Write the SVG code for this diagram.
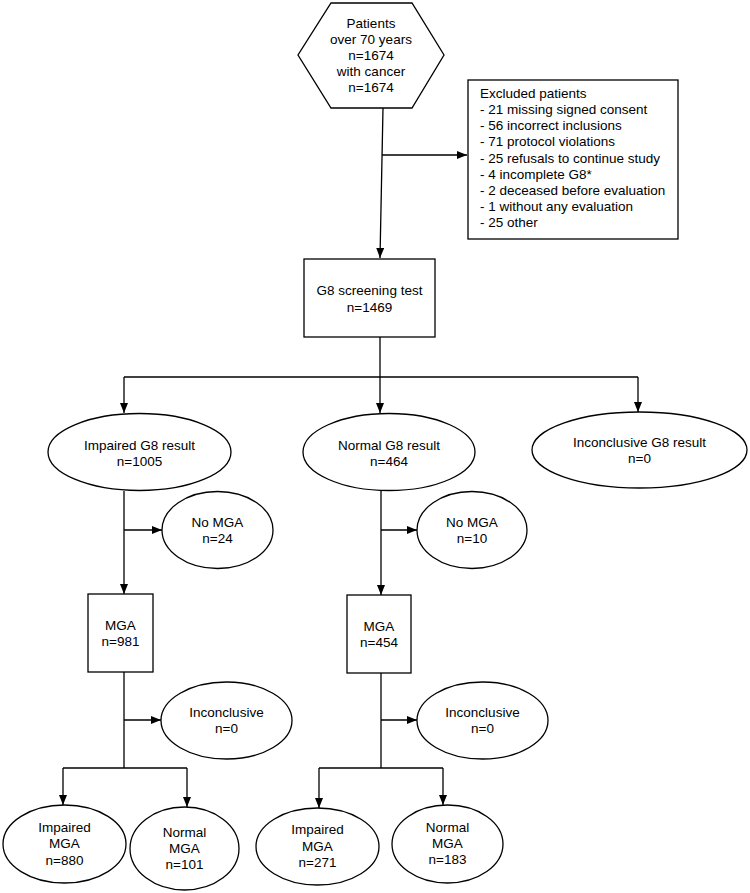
<svg xmlns="http://www.w3.org/2000/svg" width="750" height="893" viewBox="0 0 750 893">
<defs>
<marker id="ah" markerWidth="10" markerHeight="8" refX="10" refY="4" orient="auto" markerUnits="userSpaceOnUse">
<path d="M0,0 L10,4 L0,8 Z" fill="#000"/>
</marker>
<style>
.s{fill:#fff;stroke:#000;stroke-width:1.3}
.c{fill:none;stroke:#000;stroke-width:1.3}
text{font-family:"Liberation Sans",Arial,sans-serif;font-size:13.5px;fill:#000}
.m{text-anchor:middle}
</style>
</defs>
<rect width="750" height="893" fill="#fff"/>
<g id="connectors">
<path class="c" d="M383,108 L380,258" marker-end="url(#ah)"/>
<path class="c" d="M382,155 L467,155" marker-end="url(#ah)"/>
<path class="c" d="M380,337 L380,377"/>
<path class="c" d="M124,377 L638,377"/>
<path class="c" d="M124,377 L124,413" marker-end="url(#ah)"/>
<path class="c" d="M380,377 L380,413" marker-end="url(#ah)"/>
<path class="c" d="M638,377 L638,412" marker-end="url(#ah)"/>
<path class="c" d="M124,491 L124,594" marker-end="url(#ah)"/>
<path class="c" d="M124,530 L162,530" marker-end="url(#ah)"/>
<path class="c" d="M381,491 L381,595" marker-end="url(#ah)"/>
<path class="c" d="M381,530 L417,530" marker-end="url(#ah)"/>
<path class="c" d="M124,672 L124,768"/>
<path class="c" d="M124,720 L161,720" marker-end="url(#ah)"/>
<path class="c" d="M63,768 L187,768"/>
<path class="c" d="M63,768 L63,805" marker-end="url(#ah)"/>
<path class="c" d="M187,768 L187,807" marker-end="url(#ah)"/>
<path class="c" d="M381,673 L381,768"/>
<path class="c" d="M381,720 L417,720" marker-end="url(#ah)"/>
<path class="c" d="M319,768 L443,768"/>
<path class="c" d="M319,768 L319,808" marker-end="url(#ah)"/>
<path class="c" d="M443,768 L443,805" marker-end="url(#ah)"/>
</g>
<g id="patients">
<polygon class="s" points="331,3 412,3 444,55 412,108 331,108 298,55"/>
<text class="m" x="371" y="28">Patients</text>
<text class="m" x="371" y="44">over 70 years</text>
<text class="m" x="371" y="60">n=1674</text>
<text class="m" x="371" y="76">with cancer</text>
<text class="m" x="371" y="92">n=1674</text>
</g>
<g id="excluded">
<rect class="s" x="468" y="80" width="210" height="159"/>
<text x="480" y="98">Excluded patients</text>
<text x="480" y="114">- 21 missing signed consent</text>
<text x="480" y="130">- 56 incorrect inclusions</text>
<text x="480" y="146">- 71 protocol violations</text>
<text x="480" y="163">- 25 refusals to continue study</text>
<text x="480" y="179">- 4 incomplete G8*</text>
<text x="480" y="195">- 2 deceased before evaluation</text>
<text x="480" y="211">- 1 without any evaluation</text>
<text x="480" y="227">- 25 other</text>
</g>
<g id="g8">
<rect class="s" x="304" y="259" width="131" height="78"/>
<text class="m" x="369.5" y="295">G8 screening test</text>
<text class="m" x="369.5" y="312">n=1469</text>
</g>
<g id="impairedG8">
<ellipse class="s" cx="139.5" cy="452" rx="91.5" ry="38.5"/>
<text class="m" x="139.5" y="450">Impaired G8 result</text>
<text class="m" x="139.5" y="466">n=1005</text>
</g>
<g id="normalG8">
<ellipse class="s" cx="389" cy="452" rx="86" ry="38.5"/>
<text class="m" x="389" y="450">Normal G8 result</text>
<text class="m" x="389" y="466">n=464</text>
</g>
<g id="inconclusiveG8">
<ellipse class="s" cx="639.5" cy="450" rx="107.5" ry="38"/>
<text class="m" x="639.5" y="447">Inconclusive G8 result</text>
<text class="m" x="639.5" y="463">n=0</text>
</g>
<g id="noMGA1">
<ellipse class="s" cx="217.5" cy="530" rx="55.5" ry="38.5"/>
<text class="m" x="217.5" y="527">No MGA</text>
<text class="m" x="217.5" y="543">n=24</text>
</g>
<g id="noMGA2">
<ellipse class="s" cx="472" cy="530" rx="55" ry="38.5"/>
<text class="m" x="472" y="527">No MGA</text>
<text class="m" x="472" y="543">n=10</text>
</g>
<g id="mga1">
<rect class="s" x="88" y="594" width="65" height="78"/>
<text class="m" x="120.5" y="630">MGA</text>
<text class="m" x="120.5" y="646">n=981</text>
</g>
<g id="mga2">
<rect class="s" x="347" y="595" width="64" height="78"/>
<text class="m" x="379" y="631">MGA</text>
<text class="m" x="379" y="647">n=454</text>
</g>
<g id="inconclusive1">
<ellipse class="s" cx="226.5" cy="720.5" rx="65.5" ry="38.5"/>
<text class="m" x="226.5" y="717">Inconclusive</text>
<text class="m" x="226.5" y="733">n=0</text>
</g>
<g id="inconclusive2">
<ellipse class="s" cx="482.5" cy="720.5" rx="65.5" ry="38.5"/>
<text class="m" x="482.5" y="717">Inconclusive</text>
<text class="m" x="482.5" y="733">n=0</text>
</g>
<g id="impairedMGA1">
<ellipse class="s" cx="64.5" cy="844" rx="61.5" ry="39"/>
<text class="m" x="64.5" y="832">Impaired</text>
<text class="m" x="64.5" y="848">MGA</text>
<text class="m" x="64.5" y="865">n=880</text>
</g>
<g id="normalMGA1">
<ellipse class="s" cx="184.5" cy="848.5" rx="54.5" ry="41.5"/>
<text class="m" x="184.5" y="837">Normal</text>
<text class="m" x="184.5" y="853">MGA</text>
<text class="m" x="184.5" y="869">n=101</text>
</g>
<g id="impairedMGA2">
<ellipse class="s" cx="317.5" cy="846.5" rx="61.5" ry="38.5"/>
<text class="m" x="317.5" y="834">Impaired</text>
<text class="m" x="317.5" y="851">MGA</text>
<text class="m" x="317.5" y="867">n=271</text>
</g>
<g id="normalMGA2">
<ellipse class="s" cx="447.5" cy="844" rx="55.5" ry="39"/>
<text class="m" x="447.5" y="832">Normal</text>
<text class="m" x="447.5" y="848">MGA</text>
<text class="m" x="447.5" y="864">n=183</text>
</g>
</svg>
